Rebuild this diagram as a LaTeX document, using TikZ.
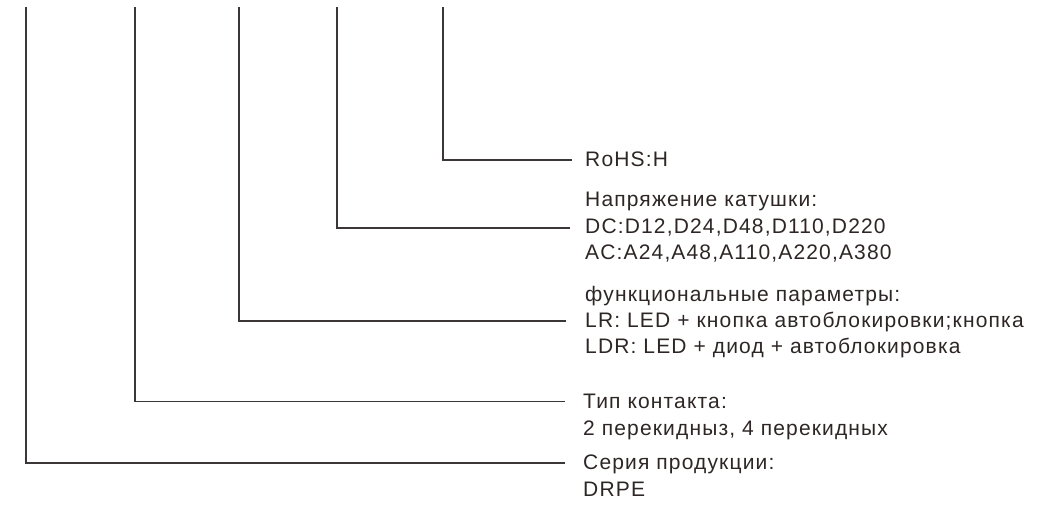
\documentclass[tikz,border=0pt]{standalone}
\usepackage{fontspec}
\setmainfont{Liberation Sans}
\newfontfamily\lblfont[LetterSpace=5.5]{Liberation Sans}
\definecolor{ink}{RGB}{45,38,36}
\definecolor{wire}{RGB}{60,55,55}
\begin{document}
\begin{tikzpicture}[x=1pt,y=1pt,
  lbl/.style={anchor=mid west,inner sep=0pt,text=ink,font=\lblfont\fontsize{21}{25}\selectfont},
  wireline/.style={draw=wire,line width=1.4pt}]
\useasboundingbox (0,0) rectangle (1048,-507);
% labels
\node[lbl] (rohs) at (585,-163.5) {RoHS:H};
\node[lbl] (n1) at (585,-204) {Напряжение катушки:};
\node[lbl] (n2) at (585,-231) {DC:D12,D24,D48,D110,D220};
\node[lbl] (n3) at (585,-257) {AC:A24,A48,A110,A220,A380};
\node[lbl] (f1) at (585,-299) {функциональные параметры:};
\node[lbl] (f2) at (585,-325) {LR: LED + кнопка автоблокировки;кнопка};
\node[lbl] (f3) at (585,-351) {LDR: LED + диод + автоблокировка};
\node[lbl] (k1) at (583,-406) {Тип контакта:};
\node[lbl] (k2) at (583,-433) {2 перекидныз, 4 перекидных};
\node[lbl] (s1) at (583,-467) {Серия продукции:};
\node[lbl] (s2) at (583,-494) {DRPE};
% top ends
\coordinate (v1) at (26,-7);
\coordinate (v2) at (135,-7);
\coordinate (v3) at (239,-7);
\coordinate (v4) at (337,-7);
\coordinate (v5) at (443,-7);
% connectors
\draw[wireline] (v5) |- ([xshift=-13pt,yshift=3.5pt]rohs.mid west);
\draw[wireline] (v4) |- ([xshift=-15pt,yshift=3pt]n2.mid west);
\draw[wireline] (v3) |- ([xshift=-19pt,yshift=4pt]f2.mid west);
\draw[wireline] (v2) |- ([xshift=-18pt,yshift=4.5pt]k1.mid west);
\draw[wireline] (v1) |- ([xshift=-18pt,yshift=4pt]s1.mid west);
\end{tikzpicture}
\end{document}
